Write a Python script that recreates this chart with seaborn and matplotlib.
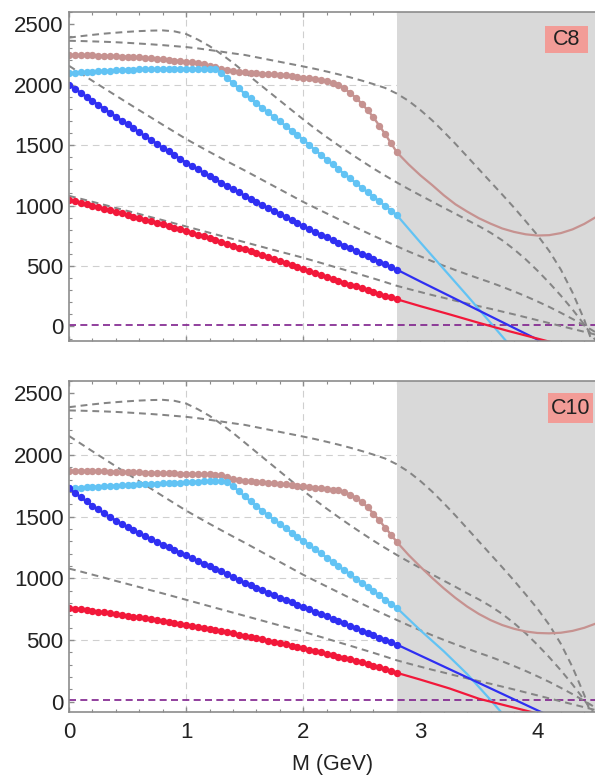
import numpy as np
import matplotlib
matplotlib.use("Agg")
import matplotlib.pyplot as plt
from matplotlib.patches import Rectangle
from matplotlib.ticker import MultipleLocator
import seaborn as sns

sns.set_theme(style="ticks")
plt.rcParams['font.family'] = ['Liberation Sans', 'DejaVu Sans']

# ---------------------------------------------------------------- data
# mass grid of the computed (marked) points, GeV
m_marked = np.round(np.arange(0.0, 2.801, 0.05), 2)
threshold = 2.8          # start of the shaded region, GeV
zero_level = 15          # purple reference line

# C8 panel, marked points
c8_rosy = [2245, 2244, 2243, 2242, 2241, 2240, 2238, 2236, 2234, 2232,
           2230, 2227, 2224, 2220, 2216, 2212, 2208, 2204, 2199, 2195,
           2190, 2183, 2175, 2166, 2155, 2143, 2130, 2120, 2112, 2106,
           2101, 2097, 2093, 2090, 2087, 2084, 2080, 2076, 2071, 2065,
           2058, 2051, 2043, 2035, 2026, 2012, 1995, 1968, 1932, 1890,
           1842, 1788, 1728, 1660, 1590, 1515, 1440]
c8_cyan = [2095, 2098, 2100, 2103, 2106, 2109, 2112, 2115, 2118, 2120,
           2122, 2124, 2125, 2126, 2127, 2128, 2129, 2129, 2130, 2130,
           2130, 2130, 2130, 2129, 2128, 2125, 2095, 2055, 2012, 1968,
           1925, 1885, 1846, 1808, 1770, 1732, 1695, 1658, 1620, 1582,
           1545, 1502, 1460, 1420, 1380, 1340, 1300, 1262, 1224, 1186,
           1148, 1110, 1072, 1034, 996, 958, 920]
c8_blue = [2000, 1966, 1932, 1899, 1866, 1833, 1800, 1767, 1735, 1702,
           1670, 1638, 1606, 1574, 1542, 1511, 1478, 1447, 1416, 1386,
           1355, 1327, 1299, 1271, 1244, 1217, 1190, 1163, 1136, 1109,
           1082, 1056, 1030, 1004, 978, 953, 928, 903, 878, 853,
           828, 805, 782, 759, 736, 713, 690, 668, 646, 624,
           602, 580, 558, 536, 514, 492, 470]
c8_red = [1048, 1035, 1023, 1010, 998, 985, 973, 960, 948, 935,
          922, 909, 896, 883, 870, 857, 844, 831, 817, 804,
          790, 775, 760, 745, 730, 715, 700, 684, 669, 653,
          638, 621, 605, 588, 572, 555, 538, 522, 505, 489,
          472, 456, 440, 424, 409, 393, 378, 362, 347, 331,
          316, 301, 286, 270, 255, 240, 225]

# C10 panel, marked points
c10_rosy = [1875, 1874, 1873, 1871, 1870, 1869, 1867, 1866, 1865, 1863,
            1862, 1861, 1859, 1858, 1856, 1855, 1854, 1852, 1851, 1849,
            1848, 1847, 1846, 1844, 1843, 1841, 1836, 1820, 1803, 1796,
            1791, 1787, 1783, 1779, 1775, 1771, 1766, 1762, 1757, 1752,
            1747, 1742, 1737, 1731, 1725, 1719, 1714, 1700, 1680, 1654,
            1620, 1576, 1525, 1470, 1413, 1355, 1295]
c10_cyan = [1730, 1733, 1736, 1739, 1742, 1745, 1748, 1750, 1753, 1755,
            1757, 1760, 1762, 1764, 1767, 1769, 1771, 1773, 1775, 1777,
            1779, 1782, 1785, 1788, 1790, 1790, 1788, 1783, 1748, 1707,
            1666, 1626, 1587, 1549, 1512, 1476, 1441, 1406, 1372, 1338,
            1305, 1271, 1237, 1203, 1169, 1135, 1101, 1067, 1033, 999,
            965, 931, 897, 863, 829, 795, 761]
c10_blue = [1730, 1693, 1658, 1624, 1591, 1559, 1528, 1498, 1469, 1442,
            1416, 1391, 1367, 1343, 1320, 1297, 1275, 1253, 1231, 1209,
            1187, 1165, 1143, 1121, 1099, 1078, 1057, 1036, 1012, 988,
            965, 945, 925, 905, 885, 865, 845, 825, 806, 787,
            768, 749, 730, 711, 692, 673, 654, 635, 616, 597,
            578, 559, 540, 521, 502, 483, 464]
c10_red = [762, 756, 750, 744, 738, 732, 725, 719, 712, 705,
           698, 691, 684, 676, 669, 661, 653, 646, 638, 630,
           622, 614, 606, 598, 589, 581, 572, 563, 554, 545,
           536, 526, 516, 506, 496, 486, 475, 465, 454, 443,
           433, 422, 411, 400, 389, 378, 367, 356, 344, 333,
           321, 307, 293, 279, 265, 250, 235]

# continuation beyond the threshold
m_rosy_tail = [2.8, 2.9, 3.0, 3.1, 3.2, 3.3, 3.4, 3.5, 3.6,
               3.7, 3.8, 3.9, 4.0, 4.1, 4.2, 4.3, 4.4, 4.5]
c8_rosy_tail = [1440, 1340, 1250, 1170, 1085, 1010, 950, 895, 850,
                810, 782, 762, 752, 755, 772, 803, 848, 905]
c10_rosy_tail = [1295, 1190, 1095, 1005, 920, 842, 772, 712, 662,
                 622, 592, 570, 558, 555, 560, 575, 600, 635]
m_cyan_tail = [2.8, 3.0, 3.2, 3.4, 3.6, 3.75]
c8_cyan_tail = [920, 695, 475, 255, 30, -140]
c10_cyan_tail = [761, 580, 410, 225, 15, -150]
m_blue_tail = [2.8, 3.0, 3.25, 3.5, 3.75, 4.0, 4.1]
c8_blue_tail = [470, 372, 252, 132, 12, -108, -156]
c10_blue_tail = [464, 375, 264, 153, 42, -69, -113]
m_red_tail = [2.8, 3.0, 3.25, 3.5, 3.75, 4.0, 4.2]
c8_red_tail = [225, 168, 100, 30, -37, -100, -150]
c10_red_tail = [235, 180, 108, 25, -35, -95, -145]

# reference (dashed) curves, common to both panels
m_ref = np.round(np.arange(0.0, 4.501, 0.1), 1)
ref_a = [2388, 2400, 2411, 2421, 2429, 2436, 2442, 2446, 2448, 2440,
         2418, 2372, 2318, 2252, 2180, 2102, 2024, 1946, 1868, 1790,
         1712, 1637, 1566, 1498, 1432, 1368, 1306, 1247, 1190, 1136,
         1084, 1033, 982, 932, 880, 830, 775, 712, 638, 555,
         462, 362, 255, 140, 15, -120]
ref_b = [2362, 2360, 2357, 2354, 2350, 2345, 2339, 2333, 2326, 2318,
         2310, 2299, 2286, 2272, 2258, 2245, 2226, 2207, 2188, 2169,
         2150, 2130, 2108, 2085, 2060, 2033, 2004, 1972, 1925, 1865,
         1790, 1705, 1610, 1510, 1405, 1300, 1195, 1090, 983, 870,
         755, 625, 470, 280, 55, -220]
ref_c = [2155, 2093, 2031, 1970, 1909, 1848, 1788, 1728, 1668, 1609,
         1550, 1496, 1443, 1391, 1340, 1290, 1238, 1186, 1134, 1082,
         1030, 982, 935, 888, 841, 795, 750, 706, 663, 620,
         580, 540, 502, 466, 431, 397, 364, 328, 290, 250,
         207, 162, 113, 62, 8, -50]
ref_d = [1080, 1056, 1031, 1006, 980, 955, 930, 904, 879, 853,
         827, 801, 775, 749, 723, 697, 671, 645, 619, 594,
         568, 540, 512, 483, 455, 426, 397, 367, 336, 310,
         285, 260, 237, 213, 190, 168, 146, 123, 100, 76,
         52, 28, 4, -20, -44, -68]

grid_x = [1, 2, 3, 4]
grid_y = [500, 1000, 1500, 2000]

# ---------------------------------------------------------------- style
COL_ROSY = '#c69290'
COL_CYAN = '#62c3f4'
COL_BLUE = '#2f2ff2'
COL_RED = '#f2183a'
COL_REF = '#858585'
COL_ZERO = '#7e1f8c'
COL_SHADE = '#d9d9d9'
COL_GRID = '#cfcfcf'
COL_FRAME = '#8c8c8c'
COL_TEXT = '#222222'
COL_TAG = '#f29c97'


def draw_panel(ax, tag, tag_box, ylim, marked, tails):
    ax.set_xlim(0, 4.5)
    ax.set_ylim(*ylim)

    for gx in grid_x:
        ax.axvline(gx, color=COL_GRID, lw=0.8, ls=(0, (6, 4.5)), zorder=0.5)
    for gy in grid_y:
        ax.axhline(gy, color=COL_GRID, lw=0.8, ls=(0, (6, 4.5)), zorder=0.5)
    ax.axvspan(threshold, 4.5, color=COL_SHADE, lw=0, zorder=1)
    ax.axhline(zero_level, color=COL_ZERO, lw=1.2, ls=(0, (4.2, 2.6)), zorder=2)

    for ref in (ref_a, ref_b, ref_c, ref_d):
        sns.lineplot(x=m_ref, y=ref, ax=ax, color=COL_REF, lw=1.45,
                     linestyle=(0, (3.4, 2.4)), errorbar=None, zorder=3)

    for (mx, vals), col in zip(tails, (COL_ROSY, COL_CYAN, COL_BLUE, COL_RED)):
        sns.lineplot(x=mx, y=vals, ax=ax, color=col, lw=1.6,
                     errorbar=None, zorder=4)
    for vals, col in zip(marked, (COL_ROSY, COL_CYAN, COL_BLUE, COL_RED)):
        sns.lineplot(x=m_marked, y=vals, ax=ax, color=col, lw=1.7,
                     marker='o', markersize=5.3, markeredgewidth=0,
                     errorbar=None, zorder=5)

    # frame and ticks
    for side in ('left', 'top', 'bottom'):
        ax.spines[side].set_color(COL_FRAME)
        ax.spines[side].set_linewidth(1.2)
        ax.spines[side].set_zorder(7)
    ax.spines['right'].set_visible(False)
    ax.xaxis.set_major_locator(MultipleLocator(1))
    ax.xaxis.set_minor_locator(MultipleLocator(0.2))
    ax.yaxis.set_major_locator(MultipleLocator(500))
    ax.yaxis.set_minor_locator(MultipleLocator(100))
    ax.tick_params(which='both', direction='in', top=True, right=False,
                   color=COL_FRAME, labelcolor=COL_TEXT, labelsize=16)
    ax.tick_params(which='major', length=3.8, width=1.0, pad=4)
    ax.tick_params(which='minor', length=2.2, width=0.8)
    ax.set_xlabel('')
    ax.set_ylabel('')

    x0, y0, w, h = tag_box
    ax.add_patch(Rectangle((x0, y0), w, h, transform=ax.transAxes,
                           facecolor=COL_TAG, edgecolor='none', zorder=8))
    ax.text(x0 + w / 2, y0 + h / 2, tag, transform=ax.transAxes,
            ha='center', va='center', fontsize=15.5, color=COL_TEXT, zorder=9)


fig = plt.figure(figsize=(5.95, 7.81), dpi=100)
ax_top = fig.add_axes([69 / 595, 440 / 781, 527 / 595, 329 / 781])
ax_bot = fig.add_axes([69 / 595, 68.7 / 781, 527 / 595, 331.6 / 781])

draw_panel(ax_top, 'C8', (0.903, 0.8745, 0.0816, 0.083), (-120, 2600),
           (c8_rosy, c8_cyan, c8_blue, c8_red),
           ((m_rosy_tail, c8_rosy_tail), (m_cyan_tail, c8_cyan_tail),
            (m_blue_tail, c8_blue_tail), (m_red_tail, c8_red_tail)))
draw_panel(ax_bot, 'C10', (0.9095, 0.8733, 0.0843, 0.0887), (-85, 2603),
           (c10_rosy, c10_cyan, c10_blue, c10_red),
           ((m_rosy_tail, c10_rosy_tail), (m_cyan_tail, c10_cyan_tail),
            (m_blue_tail, c10_blue_tail), (m_red_tail, c10_red_tail)))

ax_top.tick_params(labelbottom=False)
ax_bot.tick_params(axis='x', which='major', pad=7)
ax_bot.set_xlabel('M (GeV)', fontsize=15.5, color=COL_TEXT, labelpad=8)

fig.savefig('out.png', dpi=100)
